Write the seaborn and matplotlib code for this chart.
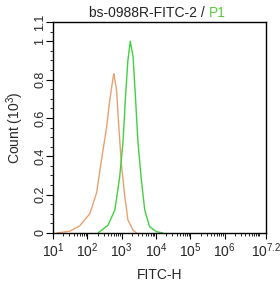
import numpy as np
import pandas as pd
import matplotlib
matplotlib.use("Agg")
import matplotlib.pyplot as plt
import matplotlib.transforms as mtransforms
import seaborn as sns
from matplotlib.ticker import FixedLocator, NullFormatter

sns.set_theme(style="white")
plt.rcParams['font.family'] = ['Liberation Sans', 'DejaVu Sans']
plt.rcParams['mathtext.fontset'] = 'custom'
plt.rcParams['mathtext.rm'] = 'Liberation Sans'
plt.rcParams['mathtext.it'] = 'Liberation Sans:italic'

# decade exponent (log10 FITC-H) and count (10^3)
orange_exp = [1.12, 1.50, 1.78, 2.07, 2.27, 2.41, 2.56, 2.65, 2.75, 2.77, 2.85, 2.91, 2.99, 3.09, 3.18, 3.33, 3.43]
orange_cnt = [0.0, 0.01, 0.038, 0.10, 0.21, 0.38, 0.55, 0.69, 0.81, 0.83, 0.745, 0.57, 0.36, 0.19, 0.068, 0.015, 0.0]
green_exp = [2.31, 2.60, 2.80, 2.94, 3.04, 3.11, 3.18, 3.25, 3.33, 3.40, 3.47, 3.57, 3.67, 3.81, 4.01, 4.20]
green_cnt = [0.0, 0.04, 0.12, 0.29, 0.48, 0.71, 0.90, 1.0, 0.92, 0.71, 0.48, 0.28, 0.12, 0.033, 0.007, 0.0]

x_tick_exps = [1, 2, 3, 4, 5, 6, 7.2]
x_tick_labels = ['1', '2', '3', '4', '5', '6', '7.2']
y_ticks = [0, 0.2, 0.4, 0.6, 0.8, 1.0, 1.1]
y_tick_labels = ['0', '0.2', '0.4', '0.6', '0.8', '1', '1.1']

df_o = pd.DataFrame({'x': [10 ** e for e in orange_exp], 'y': orange_cnt})
df_g = pd.DataFrame({'x': [10 ** e for e in green_exp], 'y': green_cnt})

fig = plt.figure(figsize=(2.8, 2.86), dpi=100)
ax = fig.add_axes([53 / 280, 1 - 233 / 286, 213 / 280, 211 / 286])

sns.lineplot(data=df_o, x='x', y='y', ax=ax, color='#EBA070', lw=1.0, sort=False)
sns.lineplot(data=df_g, x='x', y='y', ax=ax, color='#3FD23F', lw=1.0, sort=False)

ax.set_xscale('log')
ax.set_xlim(10 ** 1, 10 ** 7.2)
ax.set_ylim(0, 1.1)

ax.xaxis.set_major_locator(FixedLocator([10 ** e for e in x_tick_exps]))
ax.set_xticklabels([r'$\mathregular{10^{%s}}$' % l for l in x_tick_labels], fontsize=10)
minors = [m * 10 ** k for k in range(1, 7) for m in range(2, 10)] + [1e7]
ax.xaxis.set_minor_locator(FixedLocator(minors))
ax.xaxis.set_minor_formatter(NullFormatter())
last = ax.get_xticklabels()[-1]
last.set_transform(last.get_transform() + mtransforms.ScaledTranslation(-3 / 100, 0, fig.dpi_scale_trans))

ax.yaxis.set_major_locator(FixedLocator(y_ticks))
ax.set_yticklabels(y_tick_labels, rotation=90, va='center', fontsize=9)
ax.yaxis.set_minor_locator(FixedLocator(list(np.arange(0, 1.1, 0.05))))

ax.tick_params(axis='both', which='major', direction='out', length=4, width=0.8, color='black', pad=2, bottom=True, left=True)
ax.tick_params(axis='both', which='minor', direction='out', length=2, width=0.6, color='black', bottom=True, left=True)
ax.tick_params(axis='y', which='major', length=5, pad=0)

for s in ax.spines.values():
    s.set_color('black')
    s.set_linewidth(1.0)

ax.set_xlabel('FITC-H', fontsize=10, labelpad=6)
ax.set_ylabel(r'Count ($\mathregular{10^{3}}$)', fontsize=10, labelpad=6)

# two-colour title centred at x ~ 157 px
r = fig.canvas.get_renderer()
t1 = fig.text(0, 0.955, 'bs-0988R-FITC-2 / ', ha='left', va='center', fontsize=10, color='#222222')
t2 = fig.text(0, 0.955, 'P1', ha='left', va='center', fontsize=10, color='#5CCB3C')
w1 = t1.get_window_extent(r).width
w2 = t2.get_window_extent(r).width
x0 = 157 - (w1 + w2) / 2
t1.set_x(x0 / 280)
t2.set_x((x0 + w1) / 280)

fig.savefig('out.png', dpi=100)
